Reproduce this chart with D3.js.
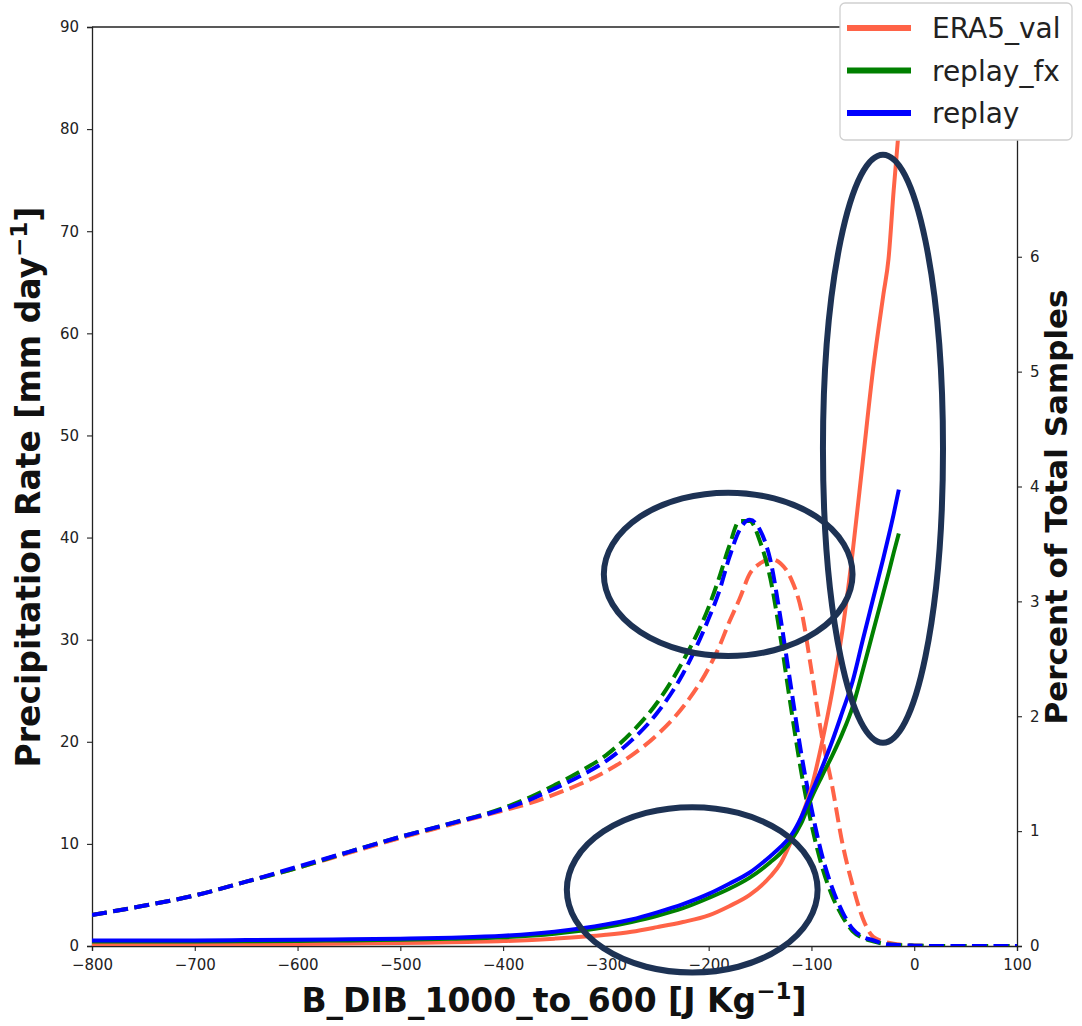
<!DOCTYPE html>
<html>
<head>
<meta charset="utf-8">
<script src="https://cdn.jsdelivr.net/npm/d3@7"></script>
<style>
  html, body { margin: 0; padding: 0; background: #fff; }
  svg { display: block; font-family: "DejaVu Sans", sans-serif; }
</style>
</head>
<body>
<svg id="chart" width="1082" height="1026"></svg>
<script>
// Buoyancy bins (J/kg) for the sample-fraction curves (right axis)
const sampleX = [-800,-750,-700,-650,-600,-550,-500,-450,-400,-375,-350,-325,-300,-275,-250,-225,-200,-190,-180,-170,-160,-150,-140,-130,-120,-110,-100,-90,-80,-70,-60,-50,-40,-30,-20,-10,0,25,50,75,100];
// Percent of total samples per bin
const era5Pct     = [0.27,0.35,0.44,0.56,0.68,0.81,0.94,1.06,1.18,1.24,1.32,1.41,1.52,1.66,1.84,2.08,2.42,2.60,2.82,3.02,3.24,3.33,3.37,3.33,3.20,2.93,2.40,1.83,1.40,0.90,0.53,0.24,0.08,0.04,0.02,0.01,0.005,0,0,0,0];
const replayFxPct = [0.27,0.35,0.44,0.56,0.68,0.82,0.95,1.07,1.20,1.29,1.40,1.52,1.66,1.86,2.12,2.48,2.95,3.20,3.48,3.70,3.70,3.52,3.20,2.68,2.08,1.52,1.06,0.70,0.44,0.26,0.13,0.07,0.04,0.02,0.01,0.005,0.003,0,0,0,0];
const replayPct   = [0.27,0.35,0.44,0.56,0.69,0.82,0.95,1.07,1.19,1.27,1.37,1.48,1.61,1.79,2.03,2.37,2.85,3.08,3.38,3.62,3.71,3.62,3.36,2.85,2.26,1.68,1.20,0.80,0.51,0.30,0.15,0.08,0.05,0.02,0.01,0.005,0.003,0,0,0,0];

// Buoyancy bins (J/kg) for the conditional precipitation rate (left axis)
const rateX = [-800,-750,-700,-650,-600,-550,-500,-450,-400,-350,-300,-275,-250,-225,-200,-180,-160,-140,-130,-120,-110,-100,-90,-80,-70,-60,-50,-40,-30,-25,-20,-15];
// Mean precipitation rate (mm/day)
const era5Rate     = [0.15,0.15,0.15,0.17,0.2,0.24,0.3,0.36,0.48,0.72,1.1,1.4,1.85,2.35,3.0,3.9,5.0,6.8,8.1,10.2,12.6,15.5,19.8,24.8,30.8,38.5,47.5,56.5,63.8,67.3,74.0,80.0];
const replayFxRate = [0.45,0.45,0.45,0.47,0.5,0.55,0.6,0.7,0.85,1.2,1.85,2.35,2.95,3.7,4.7,5.6,6.7,8.2,9.1,10.3,12.0,14.5,16.6,18.6,20.8,23.4,27.0,30.8,34.6,36.5,38.5,40.4];
const replayRate   = [0.55,0.55,0.55,0.58,0.6,0.65,0.72,0.82,1.0,1.4,2.1,2.6,3.3,4.1,5.1,6.1,7.2,8.8,9.7,10.8,12.6,15.0,17.4,20.0,22.9,25.9,30.0,34.0,38.0,40.1,42.3,44.7];

const seriesNames  = ["ERA5_val", "replay_fx", "replay"];
const seriesColors = ["tomato", "green", "blue"];

const xTicks     = [-800,-700,-600,-500,-400,-300,-200,-100,0,100];
const leftTicks  = [0,10,20,30,40,50,60,70,80,90];
const rightTicks = [0,1,2,3,4,5,6];

// Highlight rings, in data units (x: J/kg, y: mm/day)
const rings = [
  { cx: -181, cy: 36.4, rx: 121, ry: 8.0 },
  { cx: -216, cy: 5.5,  rx: 122, ry: 8.1 },
  { cx: -30.4, cy: 48.7, rx: 58.4, ry: 28.8 }
];

const svg = d3.select("#chart");
const M = { left: 92, right: 1017, top: 27, bottom: 946 };

const x  = d3.scaleLinear().domain([-800, 100]).range([M.left, M.right]);
const yL = d3.scaleLinear().domain([0, 90]).range([M.bottom, M.top]);
const yR = d3.scaleLinear().domain([0, 8]).range([M.bottom, M.top]);

const fmt = d => (d < 0 ? "\u2212" + Math.abs(d) : String(d));

svg.append("clipPath").attr("id", "plot")
  .append("rect").attr("x", M.left).attr("y", M.top)
  .attr("width", M.right - M.left).attr("height", M.bottom - M.top);

// Axes
function styleAxis(g) {
  g.selectAll(".domain").attr("stroke", "#222").attr("stroke-width", 1.3);
  g.selectAll(".tick line").attr("stroke", "#222").attr("stroke-width", 1.1);
  g.selectAll(".tick text").attr("fill", "#222").style("font-size", "15px")
    .style("font-family", "DejaVu Sans");
}
svg.append("g").attr("transform", `translate(0,${M.bottom})`)
  .call(d3.axisBottom(x).tickValues(xTicks).tickFormat(fmt).tickSizeOuter(0).tickSize(5).tickPadding(8))
  .call(styleAxis);
svg.append("g").attr("transform", `translate(${M.left},0)`)
  .call(d3.axisLeft(yL).tickValues(leftTicks).tickFormat(fmt).tickSizeOuter(0).tickSize(5).tickPadding(8))
  .call(styleAxis);
svg.append("g").attr("transform", `translate(${M.right},0)`)
  .call(d3.axisRight(yR).tickValues(rightTicks).tickFormat(fmt).tickSizeOuter(0).tickSize(5).tickPadding(8))
  .call(styleAxis);
// top spine
svg.append("line").attr("x1", M.left).attr("x2", M.right)
  .attr("y1", M.top).attr("y2", M.top).attr("stroke", "#222").attr("stroke-width", 1.3);

const plot = svg.append("g").attr("clip-path", "url(#plot)");

const pctSeries  = [era5Pct, replayFxPct, replayPct];
const rateSeries = [era5Rate, replayFxRate, replayRate];

const pctLine = d3.line().x((d, i) => x(sampleX[i])).y(d => yR(d)).curve(d3.curveMonotoneX);
const rateLine = d3.line().x((d, i) => x(rateX[i])).y(d => yL(d)).curve(d3.curveMonotoneX);

// Sample fraction: dashed
pctSeries.forEach((s, k) => {
  plot.append("path").datum(s).attr("d", pctLine)
    .attr("fill", "none").attr("stroke", seriesColors[k])
    .attr("stroke-width", 4).attr("stroke-dasharray", "15,6.5");
});
// Precipitation rate: solid
rateSeries.forEach((s, k) => {
  plot.append("path").datum(s).attr("d", rateLine)
    .attr("fill", "none").attr("stroke", seriesColors[k])
    .attr("stroke-width", 4);
});

// Highlight rings
svg.append("g").selectAll("ellipse").data(rings).join("ellipse")
  .attr("cx", d => x(d.cx)).attr("cy", d => yL(d.cy))
  .attr("rx", d => x(d.cx + d.rx) - x(d.cx))
  .attr("ry", d => yL(d.cy - d.ry) - yL(d.cy))
  .attr("fill", "none").attr("stroke", "#1d3254").attr("stroke-width", 6);

// Axis titles
const leftTitle = svg.append("text")
  .attr("transform", "translate(40,487) rotate(-90)")
  .attr("text-anchor", "middle").attr("font-weight", "bold").attr("font-size", 33).attr("fill", "#111");
leftTitle.append("tspan").text("Precipitation Rate [mm day");
leftTitle.append("tspan").attr("dy", -13).attr("font-size", 23).text("\u22121");
leftTitle.append("tspan").attr("dy", 13).text("]");

svg.append("text")
  .attr("transform", "translate(1067,507) rotate(-90)")
  .attr("text-anchor", "middle").attr("font-weight", "bold").attr("font-size", 31).attr("fill", "#111")
  .text("Percent of Total Samples");

const xTitle = svg.append("text")
  .attr("x", 554).attr("y", 1012)
  .attr("text-anchor", "middle").attr("font-weight", "bold").attr("font-size", 33).attr("fill", "#111");
xTitle.append("tspan").text("B_DIB_1000_to_600 [J Kg");
xTitle.append("tspan").attr("dy", -13).attr("font-size", 23).text("\u22121");
xTitle.append("tspan").attr("dy", 13).text("]");

// Legend
const lg = svg.append("g").attr("transform", "translate(840,3)");
lg.append("rect").attr("width", 232).attr("height", 137).attr("rx", 5)
  .attr("fill", "#fff").attr("stroke", "#d0d0d0").attr("stroke-width", 1.3);
seriesNames.forEach((name, i) => {
  const gy = 25 + i * 42.5;
  lg.append("line").attr("x1", 7).attr("x2", 71).attr("y1", gy).attr("y2", gy)
    .attr("stroke", seriesColors[i]).attr("stroke-width", 6);
  lg.append("text").attr("x", 92).attr("y", gy + 10).attr("font-size", 28).attr("fill", "#222").text(name);
});
</script>
</body>
</html>
